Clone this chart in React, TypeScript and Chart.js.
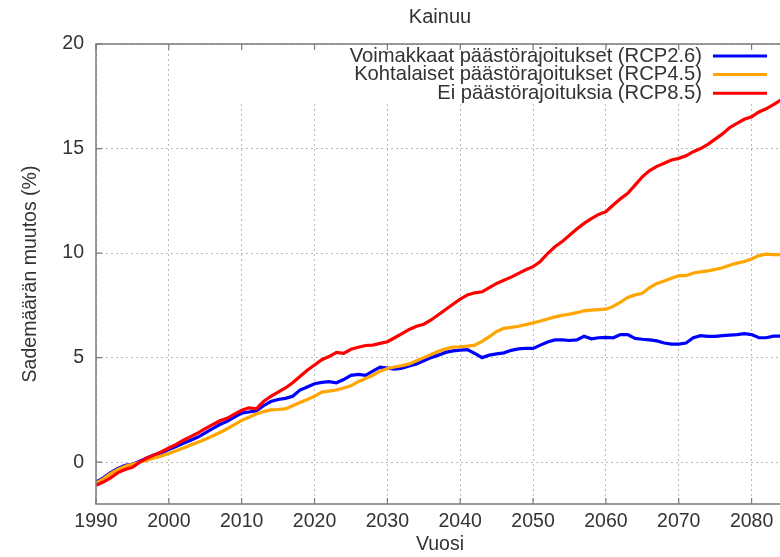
import React, { useEffect, useRef } from "react";
import { Chart, registerables } from "chart.js";

Chart.register(...registerables);

const years: number[] = [];
for (let y = 1990; y <= 2084; y++) years.push(y);

const rcp26 = [
  -0.95, -0.75, -0.5, -0.3, -0.15, -0.1, 0.05, 0.2, 0.35, 0.45,
  0.6, 0.75, 0.9, 1.05, 1.2, 1.4, 1.6, 1.8, 1.95, 2.15,
  2.35, 2.4, 2.45, 2.7, 2.9, 3.0, 3.05, 3.15, 3.45, 3.6,
  3.75, 3.82, 3.85, 3.8, 3.95, 4.15, 4.2, 4.15, 4.35, 4.55,
  4.5, 4.45, 4.5, 4.6, 4.7, 4.85, 5.0, 5.12, 5.25, 5.32,
  5.36, 5.38, 5.2, 5.0, 5.12, 5.18, 5.23, 5.35, 5.42, 5.45,
  5.44, 5.6, 5.75, 5.85, 5.85, 5.82, 5.85, 6.02, 5.9, 5.95,
  5.97, 5.95, 6.1, 6.1, 5.92, 5.88, 5.85, 5.8, 5.7, 5.65,
  5.65, 5.7, 5.95, 6.05, 6.02, 6.02, 6.05, 6.08, 6.1, 6.15,
  6.1, 5.95, 5.95, 6.03, 6.03,
];

const rcp45 = [
  -1.0, -0.8, -0.55, -0.35, -0.2, -0.1, 0.0, 0.1, 0.2, 0.3,
  0.42, 0.55, 0.68, 0.82, 0.95, 1.1, 1.25, 1.42, 1.6, 1.8,
  2.0, 2.15, 2.3, 2.42, 2.5, 2.52, 2.55, 2.7, 2.85, 3.0,
  3.15, 3.35, 3.4, 3.45, 3.55, 3.65, 3.85, 4.0, 4.15, 4.35,
  4.48, 4.55, 4.62, 4.7, 4.85, 5.0, 5.15, 5.3, 5.42, 5.5,
  5.52, 5.55, 5.6, 5.78, 6.0, 6.25, 6.4, 6.45, 6.5, 6.58,
  6.66, 6.75, 6.85, 6.95, 7.02, 7.08, 7.15, 7.24, 7.27, 7.3,
  7.32, 7.45, 7.65, 7.88, 8.0, 8.08, 8.35, 8.55, 8.66, 8.8,
  8.92, 8.92, 9.05, 9.1, 9.15, 9.22, 9.3, 9.42, 9.52, 9.6,
  9.72, 9.88, 9.95, 9.93, 9.93,
];

const rcp85 = [
  -1.1, -0.95, -0.75, -0.5, -0.35, -0.25, 0.0, 0.2, 0.35, 0.5,
  0.68, 0.85, 1.05, 1.22, 1.4, 1.6, 1.8, 1.98, 2.1, 2.3,
  2.48, 2.6, 2.55, 2.9, 3.15, 3.35, 3.55, 3.8, 4.1, 4.4,
  4.65, 4.9, 5.05, 5.25, 5.2, 5.4, 5.5, 5.58, 5.6, 5.68,
  5.76, 5.95, 6.15, 6.35, 6.5, 6.6, 6.8, 7.05, 7.3, 7.55,
  7.8, 8.0, 8.1, 8.15, 8.35, 8.55, 8.7, 8.85, 9.03, 9.2,
  9.35, 9.6, 9.98, 10.3, 10.55, 10.85, 11.15, 11.42, 11.65, 11.85,
  11.98, 12.3, 12.6, 12.86, 13.25, 13.65, 13.95, 14.15, 14.3, 14.45,
  14.53, 14.65, 14.85, 15.0, 15.2, 15.45, 15.7, 16.0, 16.2, 16.4,
  16.52, 16.75, 16.9, 17.1, 17.32,
];

const seriesLabels = [
  "Voimakkaat päästörajoitukset (RCP2.6)",
  "Kohtalaiset päästörajoitukset (RCP4.5)",
  "Ei päästörajoituksia (RCP8.5)",
];
const seriesColors = ["#0000ff", "#ffa500", "#ff0000"];
const xTicks = [1990, 2000, 2010, 2020, 2030, 2040, 2050, 2060, 2070, 2080];
const yTicks = [0, 5, 10, 15, 20];
const titleText = "Kainuu";
const xTitle = "Vuosi";
const yTitle = "Sademäärän muutos (%)";

const FONT = "'Liberation Sans', Arial, sans-serif";
const TEXT = "#333333";

const decor = {
  id: "decor",
  beforeDatasetsDraw(chart: any) {
    const { ctx, chartArea } = chart;
    ctx.save();
    ctx.fillStyle = "#ffffff";
    ctx.fillRect(232, chartArea.top + 2, chartArea.right - 232, 57);
    ctx.restore();
  },
  afterDraw(chart: any) {
    const { ctx, chartArea, scales } = chart;
    const { left, right, top, bottom } = chartArea;
    ctx.save();
    // frame
    ctx.strokeStyle = "#7a7a7a";
    ctx.lineWidth = 1.5;
    ctx.setLineDash([]);
    ctx.beginPath();
    ctx.moveTo(right + 2, top);
    ctx.lineTo(left, top);
    ctx.lineTo(left, bottom);
    ctx.lineTo(right + 2, bottom);
    ctx.stroke();
    // inner ticks
    ctx.lineWidth = 1.2;
    ctx.beginPath();
    xTicks.forEach((v) => {
      const px = scales.x.getPixelForValue(v);
      ctx.moveTo(px, bottom);
      ctx.lineTo(px, bottom - 6);
      ctx.moveTo(px, top);
      ctx.lineTo(px, top + 6);
    });
    yTicks.forEach((v) => {
      const py = scales.y.getPixelForValue(v);
      ctx.moveTo(left, py);
      ctx.lineTo(left + 6, py);
    });
    ctx.stroke();

    // texts
    ctx.fillStyle = TEXT;
    ctx.textAlign = "center";
    ctx.textBaseline = "middle";
    const cx = (left + right) / 2 + 2;
    ctx.font = `20px ${FONT}`;
    ctx.fillText(titleText, cx, 17);
    ctx.font = `19.5px ${FONT}`;
    ctx.fillText(xTitle, cx, 545);
    ctx.save();
    ctx.translate(31, (top + bottom) / 2);
    ctx.rotate(-Math.PI / 2);
    ctx.fillText(yTitle, 0, 0);
    ctx.restore();

    // legend
    ctx.font = `20.2px ${FONT}`;
    ctx.textAlign = "right";
    chart.data.datasets.forEach((ds: any, i: number) => {
      const y = top + 12 + i * 18.6;
      ctx.fillStyle = TEXT;
      ctx.fillText(ds.label, right - 78, y);
      ctx.strokeStyle = ds.borderColor;
      ctx.lineWidth = 3;
      ctx.beginPath();
      ctx.moveTo(right - 67, y);
      ctx.lineTo(right - 13, y);
      ctx.stroke();
    });
    ctx.restore();
  },
};

export default function App() {
  const ref = useRef<HTMLCanvasElement | null>(null);
  useEffect(() => {
    if (!ref.current) return;
    const mk = (data: number[], i: number) => ({
      label: seriesLabels[i],
      data: years.map((x, k) => ({ x, y: data[k] })),
      borderColor: seriesColors[i],
      backgroundColor: seriesColors[i],
      borderWidth: 3.2,
      pointRadius: 0,
      tension: 0,
      fill: false,
      order: 2 - i,
    });
    const chart = new Chart(ref.current, {
      type: "line",
      data: {
        datasets: [mk(rcp26, 0), mk(rcp45, 1), mk(rcp85, 2)],
      },
      options: {
        animation: false,
        responsive: false,
        devicePixelRatio: 1,
        layout: { padding: { top: 44, right: 0, left: 0, bottom: 0 } },
        plugins: {
          legend: { display: false },
          title: { display: false },
          tooltip: { enabled: false },
        },
        scales: {
          x: {
            type: "linear",
            min: 1990,
            max: 2083.9,
            afterBuildTicks: (s: any) => {
              s.ticks = xTicks.map((v) => ({ value: v }));
            },
            afterFit: (s: any) => {
              s.height = 53;
            },
            ticks: {
              autoSkip: false,
              maxRotation: 0,
              padding: 6,
              color: TEXT,
              font: { family: FONT, size: 19.5 },
              callback: (v: any) => String(v),
            },
            grid: { color: "#b8b8b8", lineWidth: 1, drawTicks: false },
            border: { display: false, dash: [2, 3] },
          },
          y: {
            type: "linear",
            min: -2,
            max: 20,
            afterBuildTicks: (s: any) => {
              s.ticks = yTicks.map((v) => ({ value: v }));
            },
            afterFit: (s: any) => {
              s.width = 96;
            },
            ticks: {
              padding: 12,
              color: TEXT,
              font: { family: FONT, size: 19.5 },
              callback: (v: any) => String(v),
            },
            grid: { color: "#b8b8b8", lineWidth: 1, drawTicks: false },
            border: { display: false, dash: [2, 3] },
          },
        },
      },
      plugins: [decor],
    });
    return () => chart.destroy();
  }, []);
  return (
    <div style={{ position: "fixed", left: 0, top: 0, width: 780, height: 557, background: "#fff" }}>
      <canvas ref={ref} width={780} height={557} style={{ display: "block" }} />
    </div>
  );
}
